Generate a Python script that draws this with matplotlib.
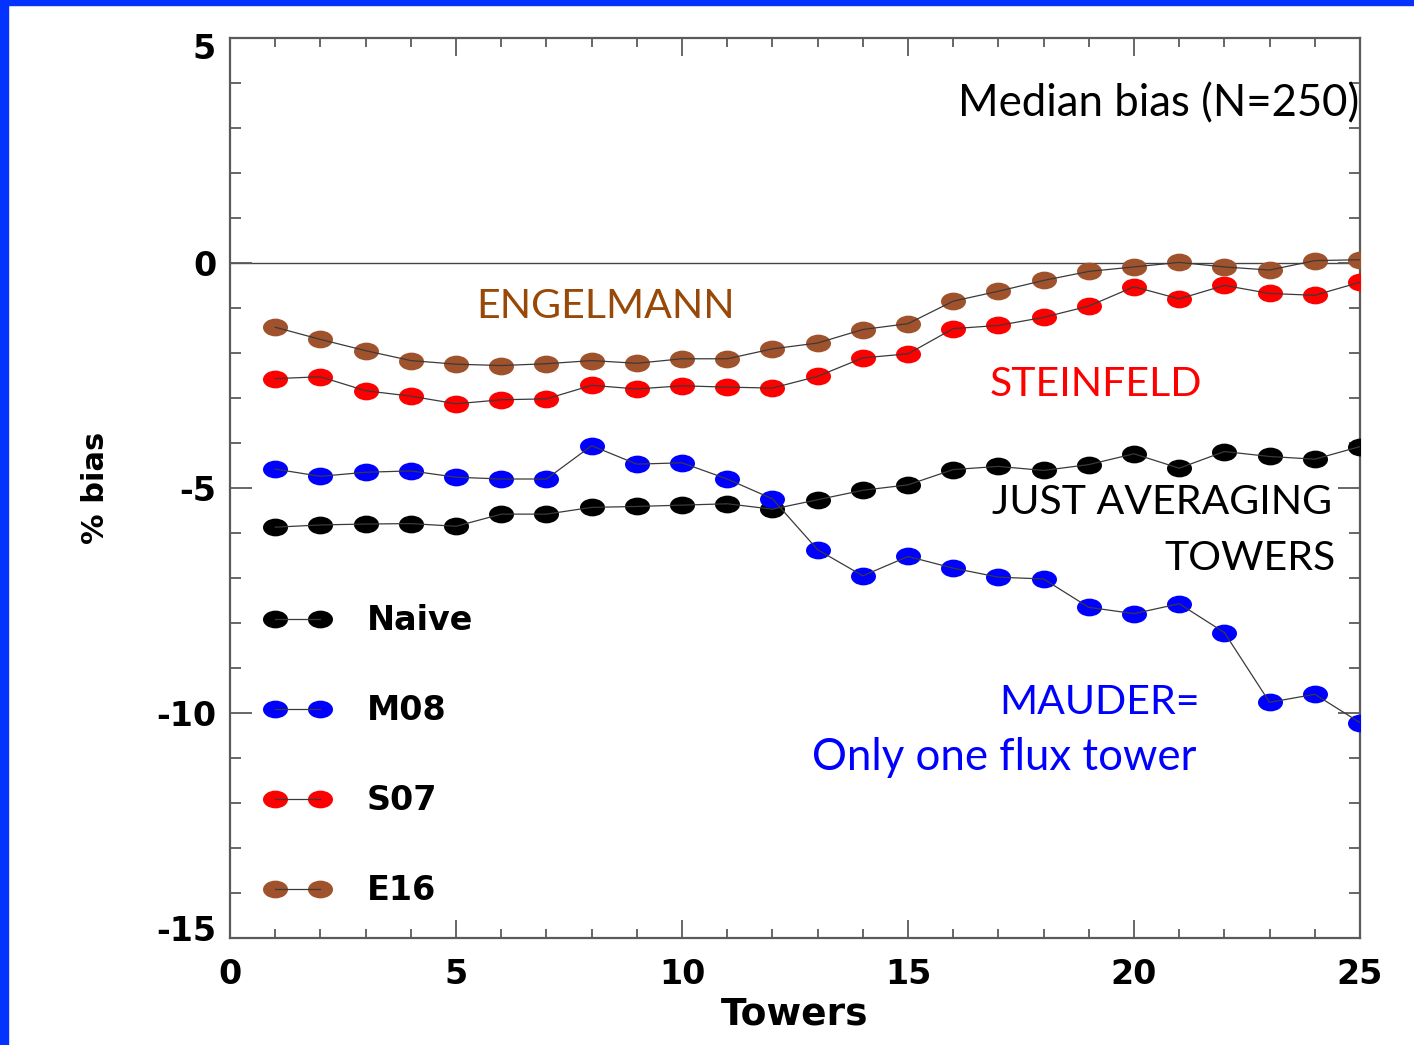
import matplotlib
matplotlib.use("Agg")
import matplotlib.pyplot as plt
from matplotlib.path import Path
from matplotlib.transforms import Affine2D, ScaledTranslation
from matplotlib.ticker import MultipleLocator
from matplotlib.legend_handler import HandlerTuple
from matplotlib.patches import Rectangle

plt.rcParams["axes.unicode_minus"] = False

# ---- data -------------------------------------------------------------
towers = list(range(1, 26))

naive = [-5.87, -5.82, -5.80, -5.79, -5.85, -5.58, -5.58, -5.43, -5.41, -5.38,
         -5.35, -5.47, -5.26, -5.05, -4.93, -4.59, -4.52, -4.61, -4.48, -4.24,
         -4.56, -4.19, -4.30, -4.36, -4.08]
m08 = [-4.58, -4.74, -4.65, -4.62, -4.76, -4.80, -4.80, -4.06, -4.47, -4.44,
       -4.80, -5.24, -6.37, -6.95, -6.52, -6.78, -6.98, -7.02, -7.65, -7.79,
       -7.57, -8.21, -9.76, -9.58, -10.21]
s07 = [-2.57, -2.53, -2.84, -2.96, -3.13, -3.04, -3.02, -2.72, -2.80, -2.73,
       -2.76, -2.78, -2.52, -2.11, -2.02, -1.46, -1.39, -1.21, -0.96, -0.53,
       -0.80, -0.50, -0.68, -0.72, -0.43]
e16 = [-1.43, -1.70, -1.95, -2.17, -2.25, -2.28, -2.24, -2.17, -2.23, -2.13,
       -2.13, -1.91, -1.78, -1.48, -1.35, -0.85, -0.63, -0.39, -0.19, -0.09,
       0.01, -0.09, -0.16, 0.05, 0.07]

series_labels = ["Naive", "M08", "S07", "E16"]
series_values = [naive, m08, s07, e16]
series_colors = ["#000000", "#0000FF", "#FF0000", "#A0522D"]

x_ticks = [0, 5, 10, 15, 20, 25]
y_ticks = [-15, -10, -5, 0, 5]

# ---- styling ----------------------------------------------------------
AX_FONT = "DejaVu Sans"
NOTE_FONT = "Lato"
FRAME = "#5a5a5a"
LINK = "#3a3a3a"

# slightly flattened circle used as the point marker
ellipse = Path.unit_circle().transformed(Affine2D().scale(1.0, 0.71))

fig = plt.figure(figsize=(14.14, 10.45), dpi=100)
ax = fig.add_axes([0.1627, 0.1021, 0.7991, 0.8618])

handles = []
for vals, col in zip(series_values, series_colors):
    mk, = ax.plot(towers, vals, linestyle="none", marker=ellipse,
                  markersize=18, color=col, markeredgewidth=0, zorder=3)
    ln, = ax.plot(towers, vals, color=LINK, lw=0.9, zorder=4)
    handles.append((mk, ln))

ax.axhline(0, color="#444444", lw=1.0, zorder=1)

ax.set_xlim(0, 25)
ax.set_ylim(-15, 5)
ax.set_xticks(x_ticks)
ax.set_yticks(y_ticks)
ax.xaxis.set_minor_locator(MultipleLocator(1))
ax.yaxis.set_minor_locator(MultipleLocator(1))

for sp in ax.spines.values():
    sp.set_color(FRAME)
    sp.set_linewidth(1.6)

ax.tick_params(axis="both", which="both", direction="in", colors=FRAME,
               top=True, right=True, width=1.3, labelcolor="black")
ax.tick_params(axis="x", which="major", length=13, pad=14)
ax.tick_params(axis="x", which="minor", length=6.5)
ax.tick_params(axis="y", which="major", length=16, pad=10)
ax.tick_params(axis="y", which="minor", length=8)

for lab in ax.get_xticklabels() + ax.get_yticklabels():
    lab.set_fontfamily(AX_FONT)
    lab.set_fontsize(24)
    lab.set_fontweight("bold")

# end labels of the y axis sit slightly inside the frame
ylabs = ax.get_yticklabels()
ylabs[0].set_transform(ylabs[0].get_transform()
                       + ScaledTranslation(0, 10 / 100, fig.dpi_scale_trans))
ylabs[-1].set_transform(ylabs[-1].get_transform()
                        + ScaledTranslation(0, -8 / 100, fig.dpi_scale_trans))

ax.set_xlabel("Towers", fontfamily=AX_FONT, fontsize=27, fontweight="bold",
              labelpad=4)
ax.set_ylabel("% bias", fontfamily=AX_FONT, fontsize=22, fontweight="bold",
              labelpad=33)

leg = ax.legend(handles, series_labels,
                handler_map={tuple: HandlerTuple(ndivide=1, pad=0)},
                numpoints=2, frameon=False, loc="upper left",
                bbox_to_anchor=(0.031, 0.371), borderaxespad=0, borderpad=0,
                handlelength=1.95, handletextpad=1.1, labelspacing=1.71,
                prop={"family": AX_FONT, "size": 24, "weight": "bold"})

# annotations
caps = dict(fontfamily=NOTE_FONT, fontsize=29.5, va="baseline")
mixed = dict(fontfamily=NOTE_FONT, fontsize=31.5, va="baseline")
ax.text(24.98, 3.26, "Median bias (N=250)", ha="right", color="black", **mixed)
ax.text(5.44, -1.22, "ENGELMANN", ha="left", color="#984807", **caps)
ax.text(16.81, -2.96, "STEINFELD", ha="left", color="#FF0000", **caps)
ax.text(24.39, -5.58, "JUST AVERAGING", ha="right", color="black", **caps)
ax.text(24.45, -6.82, "TOWERS", ha="right", color="black", **caps)
ax.text(21.46, -10.02, "MAUDER=", ha="right", color="#0000FF", **caps)
ax.text(21.39, -11.26, "Only one flux tower", ha="right", color="#0000FF", **mixed)

# blue slide frame along the left and top edges
fig.patches.append(Rectangle((0, 0), 8 / 1414, 1, transform=fig.transFigure,
                             color="#0433FF", zorder=10))
fig.patches.append(Rectangle((0, 1 - 5 / 1045), 1, 5 / 1045,
                             transform=fig.transFigure, color="#0433FF",
                             zorder=10))

fig.savefig("out.png", dpi=100)
